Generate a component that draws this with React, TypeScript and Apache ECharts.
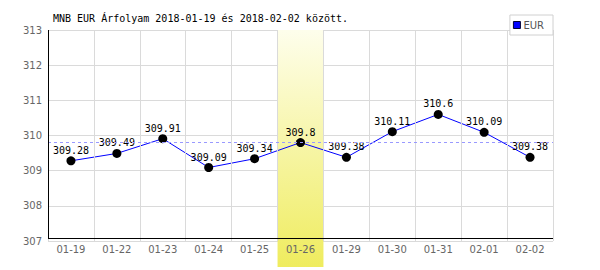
import React, { useEffect, useRef } from "react";
import * as echarts from "echarts";

const categories = ["01-19", "01-22", "01-23", "01-24", "01-25", "01-26", "01-29", "01-30", "01-31", "02-01", "02-02"];
const eurValues = [309.28, 309.49, 309.91, 309.09, 309.34, 309.8, 309.38, 310.11, 310.6, 310.09, 309.38];
const highlightCategory = "01-26";
const referenceValue = 309.8;
const yMin = 307;
const yMax = 313;
const titleText = "MNB EUR Árfolyam 2018-01-19 és 2018-02-02 között.";

export default function App() {
  const ref = useRef<HTMLDivElement>(null);
  useEffect(() => {
    if (!ref.current) return;
    const chart = echarts.init(ref.current, undefined, { renderer: "svg" });
    const gridLeft = 48;
    const gridRight = 47;
    const gridTop = 30;
    const gridBottom = 29;
    chart.setOption({
      animation: false,
      backgroundColor: "#fff",
      title: {
        text: titleText,
        left: 53,
        top: 13,
        padding: 0,
        textStyle: { fontFamily: "DejaVu Sans Mono", fontSize: 10, fontWeight: "normal", color: "#000" },
      },
      legend: {
        right: 47,
        top: 15,
        orient: "horizontal",
        backgroundColor: "#fff",
        borderColor: "#d0d0d0",
        borderWidth: 1,
        padding: [5, 9, 5, 3],
        itemWidth: 7,
        itemHeight: 7,
        itemGap: 4,
        textStyle: { fontFamily: "DejaVu Sans", fontSize: 10, color: "#555", padding: [0, 0, 0, -2] },
        data: [{ name: "EUR", icon: "rect", itemStyle: { color: "#0000ff", borderColor: "#000033", borderWidth: 1 } }],
        z: 10,
      },
      grid: { left: gridLeft, right: gridRight, top: gridTop, bottom: gridBottom },
      xAxis: {
        type: "category",
        data: categories,
        boundaryGap: true,
        z: 4,
        axisLine: { show: false },
        axisTick: { show: false },
        axisLabel: { color: "#666", fontFamily: "DejaVu Sans", fontSize: 10, margin: 3 },
        splitLine: { show: true, lineStyle: { color: "#dadada", width: 1 } },
      },
      yAxis: {
        type: "value",
        min: yMin,
        max: yMax,
        interval: 1,
        z: 0,
        axisLine: { show: false },
        axisTick: { show: false },
        axisLabel: { color: "#666", fontFamily: "DejaVu Sans", fontSize: 10, margin: 6 },
        splitLine: { show: true, lineStyle: { color: "#dadada", width: 1 } },
      },
      series: [
        {
          name: "EUR",
          type: "line",
          data: eurValues,
          z: 3,
          lineStyle: { color: "#0000ff", width: 1 },
          itemStyle: { color: "#000" },
          symbol: "circle",
          symbolSize: 9,
          label: {
            show: true,
            position: "top",
            distance: 1,
            color: "#000",
            fontFamily: "DejaVu Sans Mono",
            fontSize: 10,
          },
        },
        {
          name: "ref",
          type: "line",
          data: [],
          z: 1,
          markLine: {
            silent: true,
            symbol: "none",
            label: { show: false },
            lineStyle: { color: "#9999ff", type: [3, 3], width: 1 },
            data: [{ yAxis: referenceValue }],
          },
        },
      ],
    });

    const cx = chart.convertToPixel({ xAxisIndex: 0 }, highlightCategory) as number;
    const x0 = chart.convertToPixel({ xAxisIndex: 0 }, categories[0]) as number;
    const x1 = chart.convertToPixel({ xAxisIndex: 0 }, categories[1]) as number;
    const band = x1 - x0;
    const yTop = chart.convertToPixel({ yAxisIndex: 0 }, yMax) as number;
    const yBot = chart.convertToPixel({ yAxisIndex: 0 }, yMin) as number;
    const leftX = x0 - band / 2;
    const rightX = x0 + band * (categories.length - 0.5);
    const axisY = Math.round(yBot - 3) + 0.5;
    chart.setOption({
      graphic: {
        elements: [
          {
            type: "rect",
            z: 2,
            shape: { x: cx - band / 2, y: yTop, width: band, height: yBot - yTop + 26 },
            style: {
              fill: new echarts.graphic.LinearGradient(0, 0, 0, 1, [
                { offset: 0, color: "#fefeec" },
                { offset: 1, color: "#efec5e" },
              ]),
            },
          },
          {
            type: "line",
            z: 6,
            shape: { x1: Math.round(leftX) + 0.5, y1: yTop, x2: Math.round(leftX) + 0.5, y2: axisY },
            style: { stroke: "#000", lineWidth: 1 },
          },
          {
            type: "line",
            z: 6,
            shape: { x1: leftX, y1: axisY, x2: rightX, y2: axisY },
            style: { stroke: "#000", lineWidth: 1 },
          },
        ],
      },
    });
    return () => chart.dispose();
  }, []);
  return <div ref={ref} style={{ position: "fixed", left: 0, top: 0, width: 600, height: 270 }} />;
}
